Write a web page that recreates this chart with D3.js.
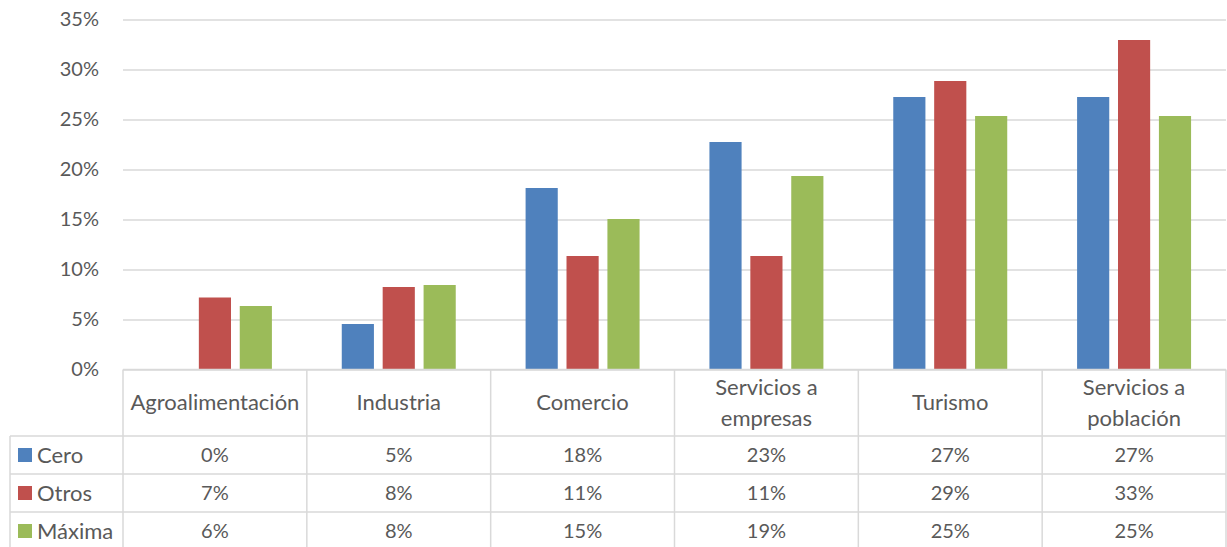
<!DOCTYPE html>
<html>
<head>
<meta charset="utf-8">
<script src="https://cdn.jsdelivr.net/npm/d3@7"></script>
<style>
  body { margin: 0; background: #fff; }
  text { font-family: Lato, "Open Sans", sans-serif; fill: #595959; }
</style>
</head>
<body>
<div id="chart"></div>
<script>
// Chart data
let categories = ["Agroalimentación", "Industria", "Comercio", "Servicios a empresas", "Turismo", "Servicios a población"];
let series = ["Cero", "Otros", "Máxima"];
let colors = ["#4f81bd", "#c0504d", "#9bbb59"];
let cero = [0.000, 0.0455, 0.1815, 0.2275, 0.2725, 0.2725];
let otros = [0.072, 0.0825, 0.1135, 0.1135, 0.2885, 0.3295];
let maxima = [0.0635, 0.0845, 0.1505, 0.1935, 0.2535, 0.2535];
let yTicks = [0, 0.05, 0.10, 0.15, 0.20, 0.25, 0.30, 0.35];
let values = [cero, otros, maxima];

let W = 1227, H = 547;
let dim = { top: 19.5, left: 123, right: 1226, zero: 369.5 };
let tableLeft = 10;
let headerBottom = 436;
let rowH = 38;
let gridColor = "#d9d9d9";
let fmt = d3.format(".0%");

let svg = d3.select("#chart")
  .append("svg")
  .attr("width", W)
  .attr("height", H);

// Scales
let x = d3.scaleBand()
  .domain(categories)
  .range([dim.left, dim.right]);

let x1 = d3.scaleBand()
  .domain(series)
  .range([0, x.bandwidth() * 0.62])
  .paddingInner(0.214);

let groupOffset = (x.bandwidth() - x.bandwidth() * 0.62) / 2;

let y = d3.scaleLinear()
  .domain([0, 0.35])
  .range([dim.zero, dim.top]);

// Y axis with gridlines
let yAxis = svg.append("g")
  .attr("transform", "translate(" + dim.left + ",0)")
  .call(d3.axisLeft(y)
    .tickValues(yTicks)
    .tickFormat(fmt)
    .tickSize(-(dim.right - dim.left))
    .tickPadding(24));
yAxis.select(".domain").remove();
yAxis.selectAll(".tick line")
  .attr("stroke", gridColor)
  .attr("stroke-width", 1.5);
yAxis.selectAll(".tick text")
  .style("font-family", "Lato, 'Open Sans', sans-serif")
  .style("font-size", "20px")
  .attr("fill", "#595959");

// Bars
series.forEach((s, si) => {
  svg.append("g")
    .selectAll("rect")
    .data(categories.map((c, i) => ({ c: c, v: values[si][i] })))
    .enter()
    .append("rect")
    .attr("x", d => x(d.c) + groupOffset + x1(s))
    .attr("width", x1.bandwidth())
    .attr("y", d => y(d.v))
    .attr("height", d => y(0) - y(d.v))
    .attr("fill", colors[si]);
});

// Data table
let table = svg.append("g");
let tableBottom = headerBottom + rowH * series.length;

// horizontal lines
table.append("line")
  .attr("x1", dim.left).attr("x2", dim.right)
  .attr("y1", dim.zero).attr("y2", dim.zero);
series.forEach((s, si) => {
  table.append("line")
    .attr("x1", tableLeft).attr("x2", dim.right)
    .attr("y1", headerBottom + rowH * si).attr("y2", headerBottom + rowH * si);
});
// vertical lines
table.append("line")
  .attr("x1", tableLeft).attr("x2", tableLeft)
  .attr("y1", headerBottom).attr("y2", tableBottom);
categories.concat([null]).forEach((c, i) => {
  let xx = c ? x(c) : dim.right;
  table.append("line")
    .attr("x1", xx).attr("x2", xx)
    .attr("y1", dim.zero).attr("y2", tableBottom);
});
table.selectAll("line")
  .attr("stroke", gridColor)
  .attr("stroke-width", 1.5);

// Category headers
categories.forEach(c => {
  let words = c.startsWith("Servicios a ") ? ["Servicios a", c.slice(12)] : [c];
  let cy = (dim.zero + headerBottom) / 2;
  words.forEach((w, wi) => {
    table.append("text")
      .attr("x", x(c) + x.bandwidth() / 2)
      .attr("y", cy + (wi - (words.length - 1) / 2) * 31)
      .attr("dy", "0.35em")
      .attr("text-anchor", "middle")
      .attr("font-size", "22px")
      .text(w);
  });
});

// Rows: legend key + values
series.forEach((s, si) => {
  let cy = headerBottom + rowH * si + rowH / 2;
  table.append("rect")
    .attr("x", 18).attr("y", cy - 7)
    .attr("width", 14).attr("height", 14)
    .attr("fill", colors[si]);
  table.append("text")
    .attr("x", 37).attr("y", cy)
    .attr("dy", "0.35em")
    .attr("font-size", "22px")
    .text(s);
  categories.forEach((c, i) => {
    table.append("text")
      .attr("x", x(c) + x.bandwidth() / 2)
      .attr("y", cy)
      .attr("dy", "0.35em")
      .attr("text-anchor", "middle")
      .attr("font-size", "20px")
      .text(fmt(values[si][i]));
  });
});
</script>
</body>
</html>
